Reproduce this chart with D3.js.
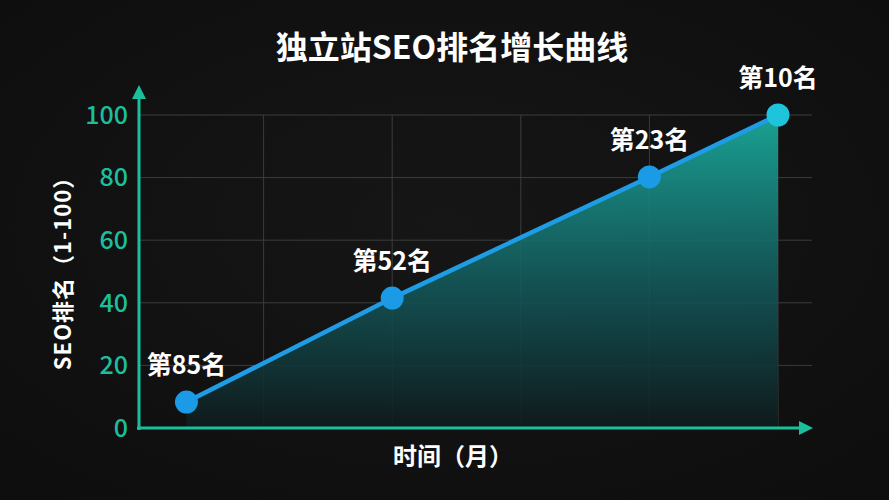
<!DOCTYPE html>
<html>
<head>
<meta charset="utf-8">
<script src="https://cdn.jsdelivr.net/npm/d3@7"></script>
<style>
  html, body { margin: 0; padding: 0; background: #121212; }
  svg { display: block; }
  text { font-family: "Noto Sans CJK SC", "Noto Sans", sans-serif; }
</style>
</head>
<body>
<svg id="chart" width="889" height="500"></svg>
<script>
// data
const months = [0.4, 2, 4, 5];
const scores = [8.3, 41.5, 80.2, 100];
const rankLabels = ["第85名", "第52名", "第23名", "第10名"];
const yTicks = [0, 20, 40, 60, 80, 100];
const xGrid = [1, 2, 3, 4, 5];

const title = "独立站SEO排名增长曲线";
const xTitle = "时间（月）";
const yTitle = "SEO排名（1-100）";

const svg = d3.select("#chart");
const W = 889, H = 500;

const x = d3.scaleLinear().domain([0, 5]).range([135, 778]);
const y = d3.scaleLinear().domain([0, 100]).range([428, 115]);

const teal = "#1cbf9c";

const defs = svg.append("defs");
let bg = defs.append("radialGradient").attr("id", "bgGrad").attr("cx", "50%").attr("cy", "45%").attr("r", "70%");
bg.append("stop").attr("offset", "0%").attr("stop-color", "#161616");
bg.append("stop").attr("offset", "100%").attr("stop-color", "#0e0e0e");

let grad = defs.append("linearGradient")
  .attr("id", "areaGrad")
  .attr("x1", 0).attr("y1", 0).attr("x2", 0).attr("y2", 1);
grad.append("stop").attr("offset", "0%").attr("stop-color", "#1aa99a").attr("stop-opacity", 0.95);
grad.append("stop").attr("offset", "55%").attr("stop-color", "#135a5c").attr("stop-opacity", 0.85);
grad.append("stop").attr("offset", "100%").attr("stop-color", "#0f1a1c").attr("stop-opacity", 0.9);

// background
svg.append("rect").attr("width", W).attr("height", H).attr("fill", "url(#bgGrad)");

// grid
svg.append("g").selectAll("line")
  .data(yTicks.filter(d => d > 0))
  .enter().append("line")
  .attr("x1", 139).attr("x2", 812)
  .attr("y1", d => y(d)).attr("y2", d => y(d))
  .attr("stroke", "#3b3d3d").attr("stroke-width", 1);

svg.append("g").selectAll("line")
  .data(xGrid)
  .enter().append("line")
  .attr("x1", d => x(d)).attr("x2", d => x(d))
  .attr("y1", y(100)).attr("y2", y(0))
  .attr("stroke", "#3b3d3d").attr("stroke-width", 1);

// area under the line
const pts = months.map((m, i) => ({ m: m, v: scores[i], label: rankLabels[i] }));
const area = d3.area()
  .x(d => x(d.m))
  .y0(y(0))
  .y1(d => y(d.v));
svg.append("path")
  .datum(pts)
  .attr("d", area)
  .attr("fill", "url(#areaGrad)");

// axes with arrows
svg.append("line")
  .attr("x1", 139).attr("x2", 139)
  .attr("y1", 430).attr("y2", 97)
  .attr("stroke", teal).attr("stroke-width", 3);
svg.append("path")
  .attr("d", "M139,85 L132,99 L146,99 Z")
  .attr("fill", teal);
svg.append("line")
  .attr("x1", 137).attr("x2", 800)
  .attr("y1", 428).attr("y2", 428)
  .attr("stroke", teal).attr("stroke-width", 3);
svg.append("path")
  .attr("d", "M813,428 L799,421 L799,435 Z")
  .attr("fill", teal);

// y tick labels
svg.append("g").selectAll("text")
  .data(yTicks)
  .enter().append("text")
  .attr("x", 128)
  .attr("y", d => y(d))
  .attr("dy", "0.35em")
  .attr("text-anchor", "end")
  .attr("fill", teal)
  .attr("font-size", 25)
  .attr("font-weight", 500)
  .text(d => d);

// line
const line = d3.line().x(d => x(d.m)).y(d => y(d.v));
svg.append("path")
  .datum(pts)
  .attr("d", line)
  .attr("fill", "none")
  .attr("stroke", "#1e9de6")
  .attr("stroke-width", 4.5)
  .attr("stroke-linecap", "round");

// points
svg.append("g").selectAll("circle")
  .data(pts)
  .enter().append("circle")
  .attr("cx", d => x(d.m))
  .attr("cy", d => y(d.v))
  .attr("r", 11.5)
  .attr("fill", (d, i) => i === pts.length - 1 ? "#1ec4dc" : "#1b9be6");

// rank labels
svg.append("g").selectAll("text")
  .data(pts)
  .enter().append("text")
  .attr("x", d => x(d.m))
  .attr("y", d => y(d.v) - 37)
  .attr("dy", "0.35em")
  .attr("text-anchor", "middle")
  .attr("fill", "#ffffff")
  .attr("font-size", 25)
  .attr("font-weight", 700)
  .text(d => d.label);

// titles
svg.append("text")
  .attr("x", 452).attr("y", 48)
  .attr("dy", "0.35em")
  .attr("text-anchor", "middle")
  .attr("fill", "#ffffff")
  .attr("font-size", 32)
  .attr("font-weight", 700)
  .text(title);

svg.append("text")
  .attr("x", 453).attr("y", 457)
  .attr("dy", "0.35em")
  .attr("text-anchor", "middle")
  .attr("fill", "#ffffff")
  .attr("font-size", 24)
  .attr("font-weight", 700)
  .text(xTitle);

svg.append("text")
  .attr("transform", "translate(63,268) rotate(-90)")
  .attr("dy", "0.35em")
  .attr("text-anchor", "middle")
  .attr("fill", "#ffffff")
  .attr("font-size", 22)
  .attr("font-weight", 700)
  .attr("letter-spacing", 1)
  .text(yTitle);
</script>
</body>
</html>
